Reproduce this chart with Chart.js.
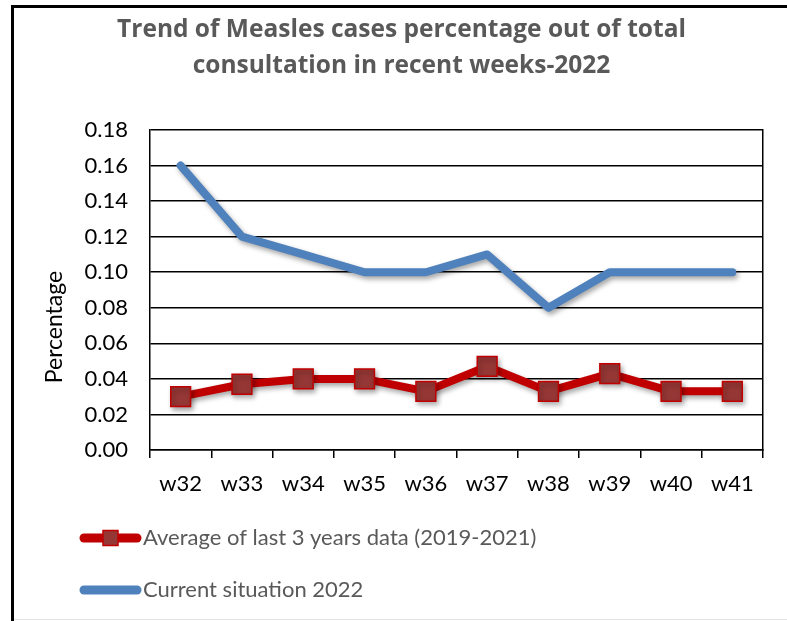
<!DOCTYPE html>
<html>
<head>
<meta charset="utf-8">
<script src="https://cdn.jsdelivr.net/npm/chart.js@4.4.1/dist/chart.umd.min.js"></script>
<style>
html, body { margin: 0; padding: 0; background: #ffffff; }
#wrap { width: 787px; height: 621px; position: relative; }
</style>
</head>
<body>
<div id="wrap"><canvas id="c" width="787" height="621"></canvas></div>
<script>
// ---- data ----
const weeks = ['w32', 'w33', 'w34', 'w35', 'w36', 'w37', 'w38', 'w39', 'w40', 'w41'];
const average3Years = [0.030, 0.037, 0.040, 0.040, 0.033, 0.047, 0.033, 0.043, 0.033, 0.033];
const current2022 = [0.16, 0.12, 0.11, 0.10, 0.10, 0.11, 0.08, 0.10, 0.10, 0.10];
const yTickValues = [0, 0.02, 0.04, 0.06, 0.08, 0.10, 0.12, 0.14, 0.16, 0.18];
const seriesNames = ['Average of last 3 years data (2019-2021)', 'Current situation 2022'];
const titleLines = ['Trend of Measles cases percentage out of total', 'consultation in recent weeks-2022'];
const yAxisTitle = 'Percentage';

const FONT = 'Lato';
const TITLE_FONT = '"Open Sans"';

// ---- plugins ----
const framePlugin = {
  id: 'frame',
  beforeDraw(chart) {
    const ctx = chart.ctx;
    ctx.save();
    ctx.fillStyle = '#ffffff';
    ctx.fillRect(0, 0, chart.width, chart.height);
    ctx.fillStyle = '#000000';
    ctx.fillRect(11, 5, 3, chart.height - 5);
    ctx.fillRect(11, 5, chart.width - 11, 3);
    ctx.fillStyle = '#e4e4e4';
    ctx.fillRect(14, chart.height - 2, chart.width - 14, 1);
    ctx.restore();
  }
};

const shadowPlugin = {
  id: 'lineShadow',
  beforeDatasetDraw(chart) {
    const ctx = chart.ctx;
    ctx.save();
    ctx.shadowColor = 'rgba(0,0,0,0.35)';
    ctx.shadowBlur = 5;
    ctx.shadowOffsetX = 2;
    ctx.shadowOffsetY = 3;
  },
  afterDatasetDraw(chart) {
    chart.ctx.restore();
  }
};

const yTitlePlugin = {
  id: 'yTitle',
  afterDraw(chart, args, opts) {
    const ctx = chart.ctx;
    ctx.save();
    ctx.translate(opts.x, opts.y);
    ctx.rotate(-Math.PI / 2);
    ctx.font = opts.size + 'px ' + FONT;
    ctx.fillStyle = opts.color;
    ctx.textAlign = 'center';
    ctx.textBaseline = 'middle';
    ctx.fillText(opts.text, 0, 0);
    ctx.restore();
  }
};

const stackedLegendPlugin = {
  id: 'stackedLegend',
  afterDraw(chart, args, opts) {
    const ctx = chart.ctx;
    chart.data.datasets.forEach((ds, i) => {
      const y = opts.top + i * opts.rowGap;
      ctx.save();
      ctx.strokeStyle = ds.borderColor;
      ctx.lineWidth = opts.lineWidth;
      ctx.lineCap = 'round';
      ctx.beginPath();
      ctx.moveTo(opts.x1, y);
      ctx.lineTo(opts.x2, y);
      ctx.stroke();
      if (ds.pointRadius > 0) {
        const s = opts.markerSize;
        const cx = (opts.x1 + opts.x2) / 2;
        ctx.fillStyle = ds.pointBackgroundColor;
        ctx.fillRect(cx - s / 2, y - s / 2, s, s);
        ctx.strokeStyle = ds.pointBorderColor;
        ctx.lineWidth = 1.5;
        ctx.strokeRect(cx - s / 2, y - s / 2, s, s);
      }
      ctx.fillStyle = opts.color;
      ctx.font = opts.size + 'px ' + FONT;
      ctx.textAlign = 'left';
      ctx.textBaseline = 'middle';
      ctx.fillText(ds.label, opts.textX, y);
      ctx.restore();
    });
  }
};

// ---- chart ----
new Chart(document.getElementById('c'), {
  type: 'line',
  data: {
    labels: weeks,
    datasets: [
      {
        label: seriesNames[0],
        data: average3Years,
        borderColor: '#C00000',
        borderWidth: 8,
        borderJoinStyle: 'round',
        borderCapStyle: 'round',
        pointStyle: 'rect',
        pointRadius: 14,
        pointHoverRadius: 14,
        pointBackgroundColor: '#953735',
        pointBorderColor: '#C00000',
        pointBorderWidth: 1.5,
        tension: 0,
        fill: false
      },
      {
        label: seriesNames[1],
        data: current2022,
        borderColor: '#4F81BD',
        borderWidth: 8,
        borderJoinStyle: 'round',
        borderCapStyle: 'round',
        pointRadius: 0,
        pointHoverRadius: 0,
        tension: 0,
        fill: false
      }
    ]
  },
  options: {
    responsive: false,
    devicePixelRatio: 1,
    animation: false,
    events: [],
    layout: { padding: { left: 40, right: 24, top: 0, bottom: 111 } },
    plugins: {
      legend: { display: false },
      tooltip: { enabled: false },
      title: {
        display: true,
        text: titleLines,
        color: '#595959',
        font: { family: TITLE_FONT, size: 24.5, weight: 'bold', lineHeight: 1.47 },
        padding: { top: 12, bottom: 46 }
      },
      yTitle: { text: yAxisTitle, x: 55, y: 327, size: 23, color: '#000000' },
      stackedLegend: {
        x1: 84, x2: 137, textX: 143, top: 538, rowGap: 52,
        lineWidth: 9, markerSize: 15, size: 22, color: '#595959'
      }
    },
    scales: {
      x: {
        offset: true,
        grid: {
          offset: true,
          drawOnChartArea: false,
          drawTicks: true,
          tickLength: 8,
          color: '#000000',
          lineWidth: 1.5
        },
        border: { display: true, color: '#000000', width: 1.5 },
        ticks: {
          color: '#000000',
          font: { family: FONT, size: 22 },
          padding: 13,
          maxRotation: 0,
          autoSkip: false
        },
        afterFit(scale) { scale.height = 60; }
      },
      y: {
        min: 0,
        max: 0.18,
        afterBuildTicks(scale) { scale.ticks = yTickValues.map(v => ({ value: v })); },
        grid: {
          drawTicks: false,
          color: '#000000',
          lineWidth: 1.5
        },
        border: { display: true, color: '#000000', width: 1.5 },
        ticks: {
          color: '#000000',
          font: { family: FONT, size: 22 },
          padding: 22,
          callback: (v) => Number(v).toFixed(2)
        },
        afterFit(scale) { scale.width = 110; }
      },
      yRight: {
        position: 'right',
        min: 0,
        max: 0.18,
        grid: { display: false, drawTicks: false },
        border: { display: true, color: '#000000', width: 1.5 },
        ticks: { display: false },
        afterFit(scale) { scale.width = 0; }
      }
    }
  },
  plugins: [framePlugin, shadowPlugin, yTitlePlugin, stackedLegendPlugin]
});
</script>
</body>
</html>
